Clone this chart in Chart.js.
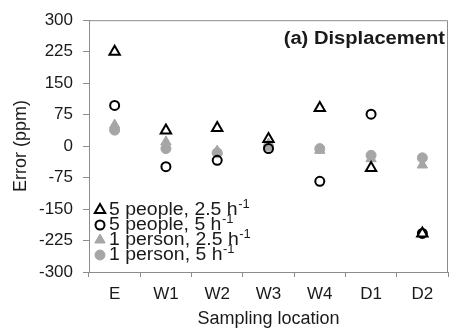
<!DOCTYPE html>
<html><head><meta charset="utf-8">
<script src="https://cdn.jsdelivr.net/npm/chart.js@4/dist/chart.umd.min.js"></script>
<style>html,body{margin:0;padding:0;background:#fff}#wrap{width:456px;height:333px}</style>
</head><body><div id="wrap"><canvas id="c" width="456" height="333"></canvas></div>
<script>
const categories = ["E", "W1", "W2", "W3", "W4", "D1", "D2"];
const fivePeople25 = [225, 37, 43, 17, 91, -52, -208];
const fivePeople5 = [97, -49, -34, -6, -84, 76, -208];
const onePerson25 = [50, 10, -12, 5, -10, -30, -45];
const onePerson5 = [38, -6, -16, 0, -6, -22, -28];
const yTicks = [300, 225, 150, 75, 0, -75, -150, -225, -300];
const seriesLabels = ["5 people, 2.5 h", "5 people, 5 h", "1 person, 2.5 h", "1 person, 5 h"];
const seriesSup = "-1";
const panelTitle = "(a) Displacement";

const FONT = "'Liberation Sans', Arial, sans-serif";
const TXT = '#1a1a1a';
const GREY = '#a6a6a6';
const AXIS = '#8c8c8c';

const styles = [
  {shape: 'triangle', fill: 'rgba(0,0,0,0)', stroke: '#000', r: 6, bw: 2},
  {shape: 'circle', fill: 'rgba(0,0,0,0)', stroke: '#000', r: 4.5, bw: 2},
  {shape: 'triangle', fill: GREY, stroke: GREY, r: 6, bw: 1},
  {shape: 'circle', fill: GREY, stroke: GREY, r: 5, bw: 1}
];
const seriesData = [fivePeople25, fivePeople5, onePerson25, onePerson5];
const orders = [1, 2, 4, 3];

function drawMarker(ctx, st, x, y) {
  ctx.save();
  ctx.beginPath();
  if (st.shape === 'circle') {
    ctx.arc(x, y, st.r, 0, Math.PI * 2);
  } else {
    const r = st.r;
    ctx.moveTo(x, y - r);
    ctx.lineTo(x + r * Math.sin(Math.PI / 3), y + r * 0.5);
    ctx.lineTo(x - r * Math.sin(Math.PI / 3), y + r * 0.5);
    ctx.closePath();
  }
  ctx.fillStyle = st.fill;
  ctx.fill();
  ctx.lineWidth = st.bw;
  ctx.strokeStyle = st.stroke;
  ctx.stroke();
  ctx.restore();
}

function stretchedText(ctx, text, x, y, sx, align) {
  ctx.save();
  ctx.translate(x, y);
  ctx.scale(sx, 1);
  ctx.textAlign = align;
  ctx.fillText(text, 0, 0);
  ctx.restore();
}

const decor = {
  id: 'decor',
  afterDatasetsDraw(chart) {
    const {ctx, chartArea: a} = chart;
    ctx.save();
    ctx.strokeStyle = AXIS;
    ctx.lineWidth = 1;
    ctx.beginPath();
    ctx.moveTo(a.left, a.top + 0.5);
    ctx.lineTo(a.right - 0.5, a.top + 0.5);
    ctx.lineTo(a.right - 0.5, a.bottom);
    ctx.stroke();
    // panel title
    ctx.fillStyle = TXT;
    ctx.font = "bold 18px " + FONT;
    ctx.textBaseline = 'middle';
    stretchedText(ctx, panelTitle, a.right - 3, a.top + 19, 1.12, 'right');
    // legend
    const rowY = [a.bottom - 62, a.bottom - 47, a.bottom - 32, a.bottom - 17];
    const sx = 1.08;
    for (let i = 0; i < 4; i++) {
      drawMarker(ctx, styles[i], a.left + 11, rowY[i]);
      ctx.fillStyle = TXT;
      ctx.font = "18px " + FONT;
      ctx.textBaseline = 'middle';
      stretchedText(ctx, seriesLabels[i], a.left + 20, rowY[i], sx, 'left');
      const w = ctx.measureText(seriesLabels[i]).width * sx;
      ctx.font = "12px " + FONT;
      stretchedText(ctx, seriesSup, a.left + 20 + w + 0.5, rowY[i] - 5, sx, 'left');
    }
    ctx.restore();
  }
};

const datasets = seriesData.map((d, i) => ({
  label: seriesLabels[i] + seriesSup,
  data: d,
  showLine: false,
  order: orders[i],
  pointStyle: styles[i].shape,
  pointRadius: styles[i].r,
  pointBorderWidth: styles[i].bw,
  pointBackgroundColor: styles[i].fill,
  pointBorderColor: styles[i].stroke,
  pointHoverRadius: styles[i].r
}));

new Chart(document.getElementById('c'), {
  type: 'line',
  data: {labels: categories, datasets},
  options: {
    responsive: false,
    animation: false,
    devicePixelRatio: 1,
    events: [],
    layout: {padding: {left: 0, right: 3, top: 16, bottom: 0}},
    plugins: {legend: {display: false}, tooltip: {enabled: false}},
    scales: {
      x: {
        type: 'category',
        offset: true,
        grid: {offset: true, drawOnChartArea: false, drawTicks: true, tickLength: 5, color: AXIS},
        border: {color: AXIS},
        ticks: {color: TXT, font: {family: FONT, size: 17}, padding: 7, maxRotation: 0},
        title: {display: true, text: 'Sampling location', color: TXT, font: {family: FONT, size: 18}, padding: {top: 0, bottom: 3}},
        afterFit(s) { s.height = 61; }
      },
      y: {
        min: -300, max: 300,
        afterBuildTicks(s) { s.ticks = yTicks.map(v => ({value: v})); },
        grid: {drawOnChartArea: false, drawTicks: true, tickLength: 6, color: AXIS},
        border: {color: AXIS},
        ticks: {color: TXT, font: {family: FONT, size: 17}, padding: 10},
        title: {display: true, text: 'Error (ppm)', color: TXT, font: {family: FONT, size: 18}, padding: {top: 10, bottom: 0}},
        afterFit(s) { s.width = 89; }
      }
    }
  },
  plugins: [decor]
});
</script></body></html>
